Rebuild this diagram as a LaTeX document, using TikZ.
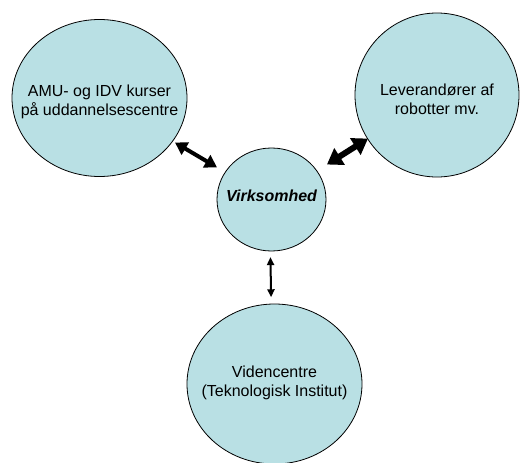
\documentclass[tikz,border=0pt]{standalone}
\usepackage{fontspec}
\setmainfont{Liberation Sans}
\usetikzlibrary{shapes.geometric,arrows.meta,calc}
\definecolor{bub}{RGB}{185,224,228}
\tikzset{
  bubble/.style={ellipse, draw=black, line width=0.8pt, fill=bub, inner sep=0pt},
  lbl/.style={align=center, font=\fontsize{16}{19}\selectfont},
}
\begin{document}
\begin{tikzpicture}[x=1pt,y=-1pt]
\useasboundingbox (0,0) rectangle (520,463);
\node[bubble, minimum width=175pt, minimum height=157pt] (l) at (99.5,98) {};
\node[bubble, minimum width=164pt, minimum height=164pt] (r) at (437,95) {};
\node[bubble, minimum width=109pt, minimum height=103pt] (c) at (271.5,199.5) {};
\node[bubble, minimum width=175pt, minimum height=160pt] (b) at (274.5,384) {};
\node[lbl] (lt) at (99.5,101.5) {AMU- og IDV kurser\\på uddannelsescentre};
\node[lbl] (rt) at (437,99.5) {Leverandører af\\robotter mv.};
\node[lbl, font=\fontsize{16}{19}\selectfont\bfseries\itshape] (ct) at (271.5,196) {Virksomhed};
\node[lbl] (bt) at (274.5,382.5) {Videncentre\\(Teknologisk Institut)};
\draw[line width=4pt, {Triangle[length=12pt,width=14pt]}-{Triangle[length=12pt,width=14pt]}]
  ($(c)!0.317!(l)$) -- ($(c)!0.561!(l)$);
\draw[line width=6pt, {Triangle[length=15pt,width=19pt]}-{Triangle[length=15pt,width=19pt]}]
  ($(c)!0.335!(r)$) -- ($(c)!0.583!(r)$);
\draw[line width=2pt, {Triangle[length=8pt,width=7pt]}-{Triangle[length=8pt,width=7pt]}]
  ([xshift=-2pt]$(c)!0.312!(b)$) -- ([xshift=-2pt]$(c)!0.530!(b)$);
\end{tikzpicture}
\end{document}
